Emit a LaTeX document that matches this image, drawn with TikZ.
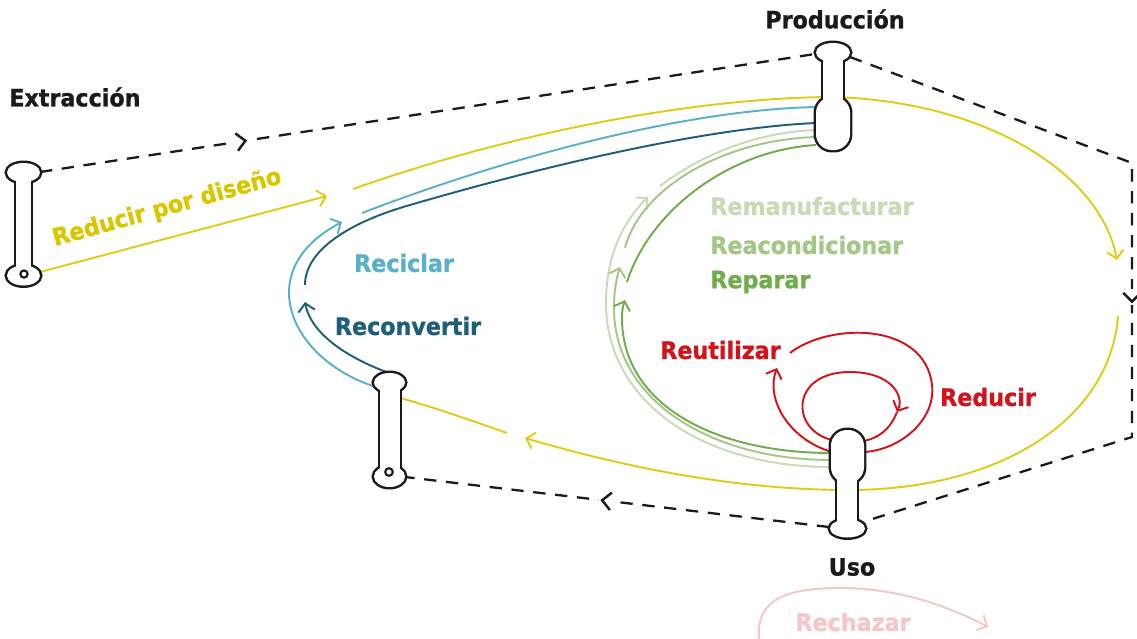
\documentclass[tikz,border=0pt]{standalone}
\usepackage{fontspec}
\setmainfont{DejaVu Sans}[FakeStretch=0.93]
\usetikzlibrary{arrows.meta,decorations.markings}

\definecolor{ink}{HTML}{1A1A1A}
\definecolor{cyellow}{HTML}{E2CB17}
\definecolor{tyellow}{HTML}{DAC600}
\definecolor{cblue}{HTML}{5AAFCB}
\definecolor{cteal}{HTML}{1F5E78}
\definecolor{gpale}{HTML}{C9DAB6}
\definecolor{gmid}{HTML}{A4C787}
\definecolor{gdark}{HTML}{71AC4A}
\definecolor{cred}{HTML}{D3131C}
\definecolor{cpink}{HTML}{F5C6C6}

\tikzset{
  flow/.style={line width=1.1pt},
  fwd/.style={-{Straight Barb[length=4.5pt,width=9.5pt]}},
  bwd/.style={{Straight Barb[length=4.5pt,width=9.5pt]}-},
  route/.style={draw=ink, line width=1.3pt, dash pattern=on 7pt off 5.5pt},
  midtip/.style={postaction={decorate}, decoration={markings,
      mark=at position #1 with {\fill[white] (-7pt,-6pt) rectangle (2pt,6pt);
        \draw[ink, solid, line width=1.4pt, line join=miter]
        (-5pt,5pt) -- (0pt,0pt) -- (-5pt,-5pt);}}},
  pinedge/.style={draw=ink, line width=2.8pt},
  lbl/.style={font=\fontsize{13.6}{16}\selectfont\bfseries\addfontfeature{FakeBold=1}, inner sep=0pt},
}

% pin outlines: each pin is a head, a stem and a foot
\newcommand\headExt{(23.5,172.5) ellipse[x radius=16.5,y radius=9.5]}
\newcommand\stemExt{(16,176) rectangle (31,270)}
\newcommand\footExt{(23.5,275.5) ellipse[x radius=16.5,y radius=10]}
\newcommand\headRet{(389.5,382.5) ellipse[x radius=15.5,y radius=9.5]}
\newcommand\stemRet{(380,386) rectangle (400,472)}
\newcommand\footRet{(389.5,476.5) ellipse[x radius=15.5,y radius=10.5]}
\newcommand\headProd{(833,52.5) ellipse[x radius=17,y radius=9.5]}
\newcommand\stemProd{(823,56) rectangle (843,102)}
\newcommand\footProd{[rounded corners=9pt] (816,97) rectangle (850,150)}
\newcommand\headUso{[rounded corners=9pt] (831,430) rectangle (864,483)}
\newcommand\stemUso{(837,478) rectangle (857,524)}
\newcommand\footUso{(847.5,528.5) ellipse[x radius=17.5,y radius=9]}

\begin{document}
\begin{tikzpicture}[x=0.02cm,y=-0.02cm]
\useasboundingbox (0,0) rectangle (1137,639);
\clip (0,0) rectangle (1137,639);

% attachment points
\coordinate (ext-head-e) at (40,172);
\coordinate (ext-foot-e) at (40,272);
\coordinate (prod-head-w) at (815,54);
\coordinate (prod-head-e) at (850,57);
\coordinate (uso-head-w) at (829,527);
\coordinate (uso-head-e) at (866,521);
\coordinate (ret-head-w) at (376,387);
\coordinate (ret-head-n) at (389,373);
\coordinate (ret-stem-e) at (400,398);
\coordinate (ret-foot-e) at (405,477);
\coordinate (ne) at (1132,163);
\coordinate (se) at (1132,437);

% dashed routes between stages
\draw[route, midtip=0.265] (ext-head-e) -- (prod-head-w);
\draw[route, midtip=0.515] (prod-head-e) -- (ne) -- (se) -- (uso-head-e);
\draw[route, midtip=0.535] (uso-head-w) -- (ret-foot-e);

% main yellow loop
\coordinate (y1) at (327,196);
\coordinate (y2) at (353,189);
\coordinate (y3) at (1117,260);
\coordinate (y4) at (1118,316);
\coordinate (y5) at (525,438);
\coordinate (y6) at (507,433);
\draw[flow, cyellow, fwd] (ext-foot-e) -- (y1);
\draw[flow, cyellow, fwd] (y2) .. controls (520,130) and (700,98) .. (830,97)
  .. controls (980,100) and (1100,170) .. (y3);
\draw[flow, cyellow, fwd] (y4) .. controls (1110,420) and (1000,490) .. (848,490)
  .. controls (720,490) and (600,460) .. (y5);
\draw[flow, cyellow] (y6) .. controls (470,420) and (430,406) .. (ret-stem-e);

% Reciclar
\coordinate (b1) at (342,222);
\coordinate (b2) at (362,213);
\coordinate (prod-b) at (816,107);
\draw[flow, cblue, fwd] (ret-head-w) .. controls (290,360) and (250,270) .. (b1);
\draw[flow, cblue] (b2) .. controls (500,160) and (680,110) .. (prod-b);

% Reconvertir
\coordinate (d1) at (305,302);
\coordinate (d2) at (305,285);
\coordinate (prod-d) at (816,123);
\draw[flow, cteal, fwd] (ret-head-n) .. controls (340,355) and (310,330) .. (d1);
\draw[flow, cteal] (d2) .. controls (305,250) and (350,222) .. (410,205)
  .. controls (530,170) and (700,128) .. (prod-d);

% inner green loops
\coordinate (prod-g1) at (816,130);
\coordinate (prod-g2) at (816,137);
\coordinate (prod-g3) at (816,145);
\coordinate (uso-g1) at (831,467);
\coordinate (uso-g2) at (831,460);
\coordinate (uso-g3) at (831,453);
\coordinate (g1a) at (660,186);
\coordinate (g1b) at (648,197);
\coordinate (g2a) at (625,248);
\coordinate (g2b) at (620,267);
\coordinate (g3a) at (627,282);
\coordinate (g3b) at (625,300);
\draw[flow, gpale] (prod-g1) .. controls (760,132) and (705,152) .. (g1a);
\draw[flow, gpale, bwd] (g1b) .. controls (620,225) and (606,260) .. (606,303)
  .. controls (606,400) and (700,467) .. (uso-g1);
\draw[flow, gmid] (prod-g2) .. controls (720,140) and (640,190) .. (g2a);
\draw[flow, gmid, bwd] (g2b) .. controls (616,280) and (614,292) .. (614,308)
  .. controls (614,400) and (710,460) .. (uso-g2);
\draw[flow, gdark] (prod-g3) .. controls (730,150) and (650,210) .. (g3a);
\draw[flow, gdark, bwd] (g3b) .. controls (623,306) and (622,310) .. (622,318)
  .. controls (622,405) and (715,453) .. (uso-g3);

% red loops around use
\coordinate (uso-r1w) at (832,452);
\coordinate (uso-r1e) at (864,452);
\coordinate (uso-r2w) at (832,440);
\coordinate (uso-r2e) at (864,441);
\coordinate (r1) at (777,368);
\coordinate (r2) at (790,353);
\coordinate (r3) at (897,412);
\draw[flow, cred, fwd] (uso-r1w) .. controls (790,440) and (765,400) .. (r1);
\draw[flow, cred] (r2) .. controls (830,322) and (925,322) .. (932,385)
  .. controls (936,420) and (900,450) .. (uso-r1e);
\draw[flow, cred, fwd] (uso-r2w) .. controls (790,430) and (790,372) .. (850,372)
  .. controls (890,372) and (905,395) .. (r3);
\draw[flow, cred] (r3) .. controls (890,430) and (878,438) .. (uso-r2e);

% Rechazar
\coordinate (rj0) at (760,645);
\coordinate (rj1) at (988,627);
\draw[flow, cpink, fwd] (rj0) .. controls (752,600) and (785,588) .. (840,588)
  .. controls (900,588) and (950,607) .. (rj1);

% stage pins: thick outline of the union, then a white fill of each part
\foreach \part in {\headExt,\stemExt,\footExt,\headRet,\stemRet,\footRet,
                   \headProd,\stemProd,\footProd,\headUso,\stemUso,\footUso}
  {\path[pinedge] \part;}
\foreach \part in {\headExt,\stemExt,\footExt,\headRet,\stemRet,\footRet,
                   \headProd,\stemProd,\footProd,\headUso,\stemUso,\footUso}
  {\fill[white] \part;}
\draw[ink, line width=1.2pt] (24,274) circle[radius=3.6];
\draw[ink, line width=1.2pt] (389,472) circle[radius=3.8];

% labels
\node[lbl, ink] (t-prod) at (835,19) {Producción};
\node[lbl, ink, anchor=west] (t-ext) at (9,97) {Extracción};
\node[lbl, ink] (t-uso) at (852,567) {Uso};
\node[lbl, tyellow, rotate=15.5] (t-rpd) at (167,208) {Reducir por diseño};
\node[lbl, cblue] (t-rec) at (404,263) {Reciclar};
\node[lbl, cteal] (t-rcv) at (408,326) {Reconvertir};
\node[lbl, gpale, anchor=west] (t-rem) at (710,206) {Remanufacturar};
\node[lbl, gmid, anchor=west] (t-rea) at (710,245) {Reacondicionar};
\node[lbl, gdark, anchor=west] (t-rep) at (710,282) {Reparar};
\node[lbl, cred, anchor=east] (t-reu) at (781,350) {Reutilizar};
\node[lbl, cred] (t-red) at (988,397) {Reducir};
\node[lbl, cpink] (t-rch) at (853,622) {Rechazar};
\end{tikzpicture}
\end{document}
